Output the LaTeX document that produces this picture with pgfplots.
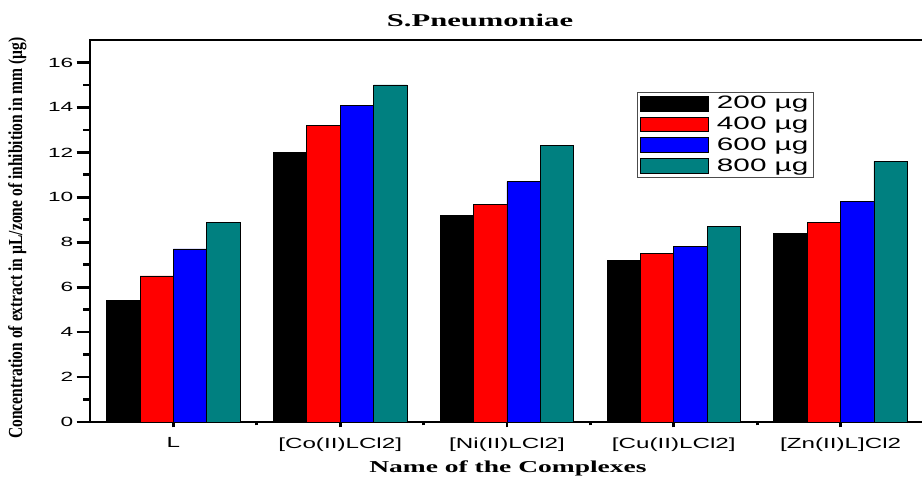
\documentclass[border=0pt]{standalone}
\usepackage{fontspec}
\setmainfont{Liberation Serif}
\setsansfont{Liberation Sans}
\usepackage{graphicx}
\usepackage{pgfplots}
\pgfplotsset{compat=1.18}
\definecolor{tealc}{RGB}{0,128,128}
\pgfplotsset{mylegend/.style={legend image code/.code={\draw[##1,line width=0.8pt] (0pt,-5.5pt) rectangle (51pt,5.5pt);}}}
\newcommand{\wx}[1]{\scalebox{1.65}[1]{#1}}
\newcommand{\wl}[1]{\scalebox{1.65}[1]{#1}}
\begin{document}
\begin{tikzpicture}
\begin{axis}[
  at={(0pt,0pt)}, anchor=south west,
  width=625.5pt, height=286.5pt, scale only axis,
  xmin=-0.5, xmax=4.5, ymin=0, ymax=17,
  xtick={0,1,2,3,4},
  xticklabels={\wx{L},\wx{[Co(II)LCl2]},\wx{[Ni(II)LCl2]},\wx{[Cu(II)LCl2]},\wx{[Zn(II)L]Cl2}},
  minor xtick={0.5,1.5,2.5,3.5},
  ytick={0,2,...,16}, minor ytick={1,3,...,15},
  xtick pos=bottom, ytick pos=left,
  tick align=outside,
  major tick length=10pt, minor tick length=5pt,
  xtick style={/pgfplots/major tick length=4pt,/pgfplots/minor tick length=2.5pt},
  axis line style={line width=2.2pt},
  every tick/.style={black, line width=2pt},
  yticklabel={\scalebox{1.7}[1]{\pgfmathprintnumber[assume math mode=true]{\tick}}},
  yticklabel style={font=\fontsize{10}{12}\sffamily, xshift=1pt},
  xticklabel style={font=\fontsize{11}{13}\sffamily, yshift=2pt},
  ybar, bar width=0.2,
  legend style={at={(0.656,0.864)}, anchor=north west, draw=black!70, line width=0.7pt,
    font=\fontsize{13.5}{15}\sffamily, row sep=2.2pt, column sep=4pt,
    inner xsep=1.75pt, inner ysep=1.8pt,
    nodes={inner ysep=1.2pt, inner xsep=2pt}},
  legend cell align=left,
]
\addplot[fill=black, draw=black, line width=0.6pt, bar shift=-0.3, mylegend] coordinates {(0,5.4) (1,12.0) (2,9.2) (3,7.2) (4,8.4)};
\addlegendentry{\wl{200 µg}}
\addplot[fill=red, draw=black, line width=0.6pt, bar shift=-0.1, mylegend] coordinates {(0,6.5) (1,13.2) (2,9.7) (3,7.5) (4,8.9)};
\addlegendentry{\wl{400 µg}}
\addplot[fill=blue, draw=black, line width=0.6pt, bar shift=0.1, mylegend] coordinates {(0,7.7) (1,14.1) (2,10.7) (3,7.8) (4,9.8)};
\addlegendentry{\wl{600 µg}}
\addplot[fill=tealc, draw=black, line width=0.6pt, bar shift=0.3, mylegend] coordinates {(0,8.9) (1,15.0) (2,12.3) (3,8.7) (4,11.6)};
\addlegendentry{\wl{800 µg}}
\end{axis}
\node at (292.5pt,301pt) {\scalebox{1.7}[1]{\fontsize{13.5}{15}\selectfont\bfseries S.Pneumoniae}};
\node at (313.5pt,-34.5pt) {\scalebox{1.65}[1]{\fontsize{12.5}{14}\selectfont\bfseries Name of the Complexes}};
\node[rotate=90] at (-54.5pt,138pt) {\resizebox{301pt}{10.5pt}{\bfseries Concentration of extract in µL/zone of inhibition in mm (µg)}};
\pgfresetboundingbox
\useasboundingbox (-67.5pt,-41.25pt) rectangle (624pt,316.5pt);
\end{tikzpicture}
\end{document}
